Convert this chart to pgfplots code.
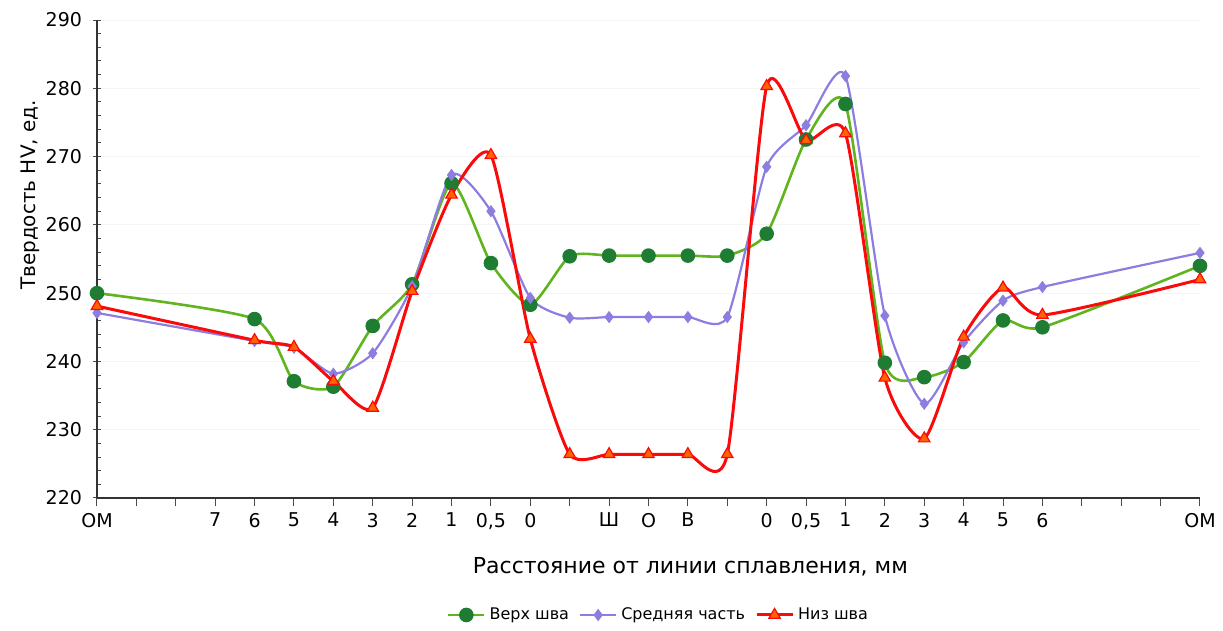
\documentclass[border=0pt]{standalone}
\usepackage{fontspec}
\setmainfont{DejaVu Sans}
\usepackage{pgfplots}
\pgfplotsset{compat=1.18}
\definecolor{gline}{RGB}{96,180,30}
\definecolor{gmark}{RGB}{30,125,50}
\definecolor{pline}{RGB}{140,125,225}
\definecolor{rline}{RGB}{250,10,10}
\definecolor{rmark}{RGB}{255,100,0}
\begin{document}
\begin{tikzpicture}
\begin{axis}[
  scale only axis, width=551.5pt, height=239pt,
  at={(0,0)}, anchor=south west,
  xmin=0, xmax=28, ymin=220, ymax=290,
  axis lines*=left,
  axis line style={line width=0.8pt, black!80},
  xtick={0,...,28},
  xticklabels={OM,,,7,6,5,4,3,2,1,{0,5},0,,Ш,О,В,,0,{0,5},1,2,3,4,5,6,,,,OM},
  ytick={220,230,...,290},
  minor y tick num=4,
  tick align=center,
  major tick length=4pt,
  minor tick length=2pt,
  minor y tick style={xshift=1pt},
  xtick style={yshift=-2pt},
  tick style={black!70, line width=0.5pt},
  /pgf/number format/assume math mode=true,
  ticklabel style={font=\fontsize{9.5}{11}\selectfont},
  xticklabel style={yshift=-2pt},
  yticklabel style={xshift=-2pt},
  ymajorgrids, major grid style={gray!8},
  ylabel={Твердость HV, ед.},
  ylabel style={font=\fontsize{10}{12}\selectfont, at={(axis description cs:-0.0607,0.634)}, anchor=center},
  xlabel={Расстояние от линии сплавления, мм},
  xlabel style={font=\fontsize{11}{13}\selectfont, at={(axis description cs:0.538,0)}, anchor=center, yshift=-34.5pt},
  legend style={at={(axis description cs:0.51,0)}, anchor=center, yshift=-58.5pt, draw=none, fill=none,
    font=\fontsize{8}{10}\selectfont, legend columns=-1, /tikz/every even column/.append style={column sep=3pt}},
  legend image code/.code={\draw[#1] (0pt,0pt) -- (9pt,0pt) plot coordinates {(9pt,0pt)} -- (18pt,0pt);},
  clip=false,
]
\addplot[gline, line width=1.3pt, smooth, tension=0.38, mark=*, mark size=3pt, mark options={fill=gmark, draw=gmark, solid}]
coordinates {(0,250) (4,246.2) (5,237.1) (6,236.3) (7,245.2) (8,251.3) (9,266.1) (10,254.4) (11,248.3) (12,255.4) (13,255.5) (14,255.5) (15,255.5) (16,255.5) (17,258.7) (18,272.5) (19,277.7) (20,239.8) (21,237.7) (22,239.9) (23,246.0) (24,245.0) (28,254.0)};
\addlegendentry{Верх шва}
\addplot[pline, line width=1.1pt, smooth, tension=0.38, mark=diamond*, mark size=2.2pt, mark options={fill=pline, draw=pline, solid}]
coordinates {(0,247.1) (4,243.0) (5,242.0) (6,238.2) (7,241.2) (8,251.0) (9,267.3) (10,262.0) (11,249.3) (12,246.4) (13,246.5) (14,246.5) (15,246.5) (16,246.5) (17,268.5) (18,274.6) (19,281.8) (20,246.7) (21,233.8) (22,242.8) (23,248.9) (24,250.9) (28,255.9)};
\addlegendentry{Средняя часть}
\addplot[rline, line width=1.5pt, smooth, tension=0.38, mark=triangle*, mark size=3.3pt, mark options={fill=rmark, draw=rline, line width=0.6pt, solid}]
coordinates {(0,248.1) (4,243.1) (5,242.1) (6,237.1) (7,233.2) (8,250.3) (9,264.4) (10,270.2) (11,243.3) (12,226.4) (13,226.4) (14,226.4) (15,226.4) (16,226.4) (17,280.3) (18,272.4) (19,273.4) (20,237.6) (21,228.7) (22,243.6) (23,250.8) (24,246.8) (28,252.0)};
\addlegendentry{Низ шва}
\end{axis}
\path[use as bounding box] (-48.5pt,-65pt) rectangle (563pt,249pt);
\end{tikzpicture}
\end{document}
